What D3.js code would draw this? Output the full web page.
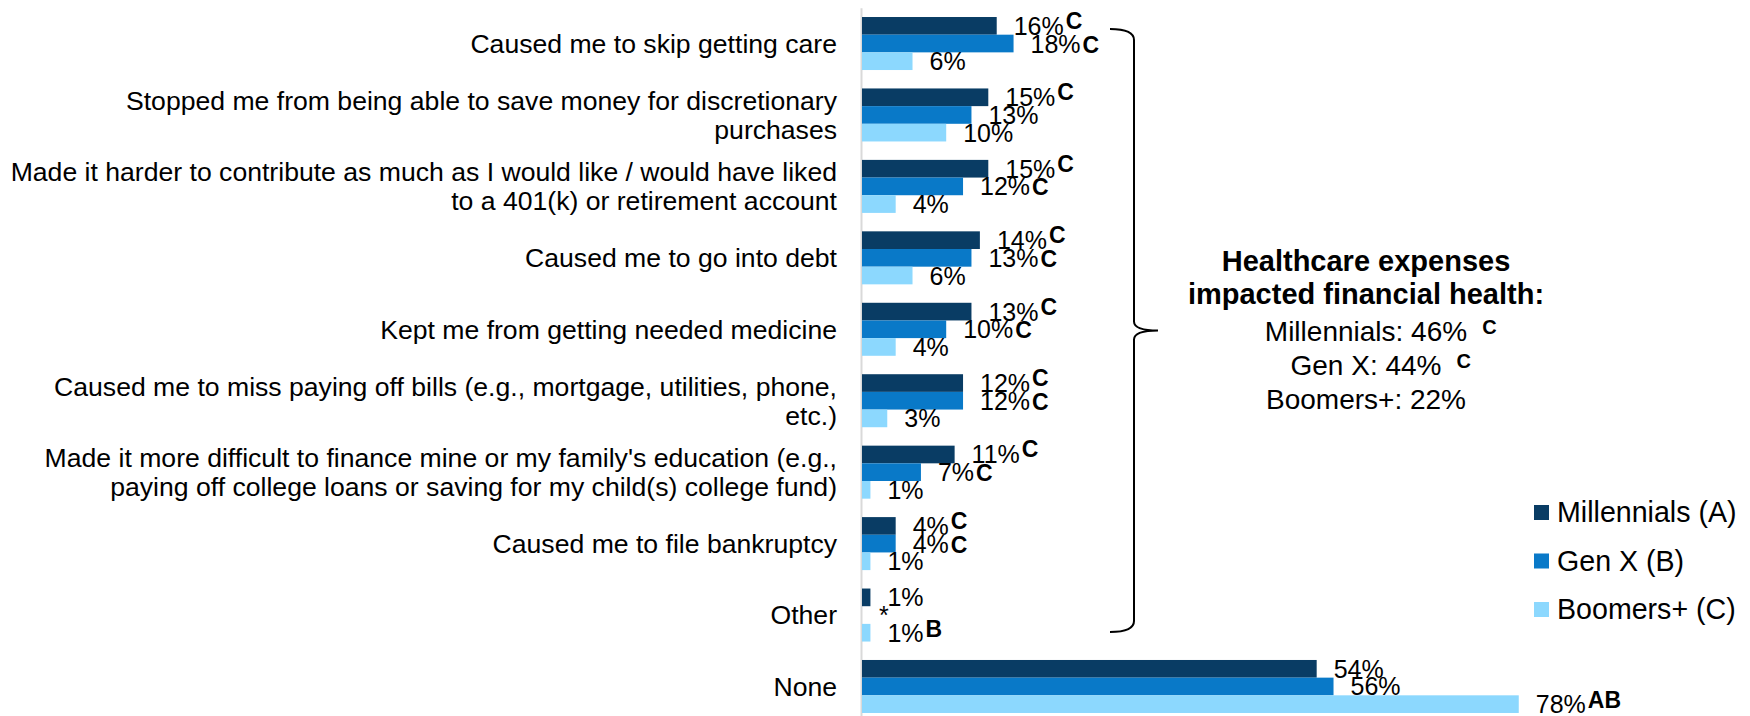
<!DOCTYPE html>
<html>
<head>
<meta charset="utf-8">
<script src="https://cdn.jsdelivr.net/npm/d3@7"></script>
<style>
  html, body { margin: 0; padding: 0; background: #fff; }
  svg { display: block; font-family: "Liberation Sans", Arial, sans-serif; }
</style>
</head>
<body>
<svg id="chart" width="1750" height="716"></svg>
<script>
// Survey answers (line breaks where the labels wrap)
const categories = [
  "Caused me to skip getting care",
  "Stopped me from being able to save money for discretionary\npurchases",
  "Made it harder to contribute as much as I would like / would have liked\nto a 401(k) or retirement account",
  "Caused me to go into debt",
  "Kept me from getting needed medicine",
  "Caused me to miss paying off bills (e.g., mortgage, utilities, phone,\netc.)",
  "Made it more difficult to finance mine or my family's education (e.g.,\npaying off college loans or saving for my child(s) college fund)",
  "Caused me to file bankruptcy",
  "Other",
  "None"
];

const seriesNames = ["Millennials (A)", "Gen X (B)", "Boomers+ (C)"];

// Percent of respondents; null = less than 0.5% (shown as *)
const millennials = [16, 15, 15, 14, 13, 12, 11, 4, 1, 54];
const genX        = [18, 13, 12, 13, 10, 12, 7, 4, null, 56];
const boomers     = [6, 10, 4, 6, 4, 3, 1, 1, 1, 78];

// Significance letters next to each value
const sigMillennials = ["C", "C", "C", "C", "C", "C", "C", "C", "", ""];
const sigGenX        = ["C", "", "C", "C", "C", "C", "C", "C", "", ""];
const sigBoomers     = ["", "", "", "", "", "", "", "", "B", "AB"];

// Summary box text
const summaryTitle = ["Healthcare expenses", "impacted financial health:"];
const summaryRows = [
  { text: "Millennials: 46%", sig: "C" },
  { text: "Gen X: 44%", sig: "C" },
  { text: "Boomers+: 22%", sig: "" }
];

const colors = ["#093c64", "#0979c8", "#8cd8fe"];

const series = [
  { name: seriesNames[0], values: millennials, sig: sigMillennials, raise: 6 },
  { name: seriesNames[1], values: genX, sig: sigGenX, raise: 0 },
  { name: seriesNames[2], values: boomers, sig: sigBoomers, raise: 5 }
];

const svg = d3.select("#chart");

const y = d3.scaleBand()
  .domain(categories)
  .range([7.8, 722.2])
  .paddingInner(0.258)
  .paddingOuter(0.129);

const ySeries = d3.scaleBand()
  .domain(seriesNames)
  .range([0, y.bandwidth()]);

const x = d3.scaleLinear()
  .domain([0, 100])
  .range([862, 1704]);

// Category axis line
const axis = svg.append("g")
  .attr("transform", `translate(${x(0) - 1},0)`)
  .call(d3.axisLeft(y).tickSize(0).tickFormat(""));
axis.select(".domain").attr("stroke", "#d9d9d9").attr("stroke-width", 2);

// Category labels (right-aligned, multi-line)
const labelX = x(0) - 25;
const lineH = 29;
categories.forEach(cat => {
  const lines = cat.split("\n");
  const cy = y(cat) + y.bandwidth() / 2;
  const first = cy + 9.3 - (lines.length - 1) * lineH / 2;
  const t = svg.append("text")
    .attr("text-anchor", "end")
    .attr("font-size", 26.6)
    .attr("fill", "#000");
  lines.forEach((ln, i) => {
    t.append("tspan").attr("x", labelX).attr("y", first + i * lineH).text(ln);
  });
});

// Bars and value labels
series.forEach((s, si) => {
  const g = svg.append("g");
  g.selectAll("rect")
    .data(categories.map((c, i) => ({ c, v: s.values[i] })))
    .join("rect")
    .attr("x", x(0))
    .attr("y", d => y(d.c) + ySeries(s.name))
    .attr("width", d => x(d.v || 0) - x(0))
    .attr("height", ySeries.bandwidth())
    .attr("fill", colors[si]);

  const labels = g.selectAll("text")
    .data(categories.map((c, i) => ({ c, v: s.values[i], sig: s.sig[i] })))
    .join("text")
    .attr("x", d => x(d.v || 0) + 17)
    .attr("y", d => y(d.c) + ySeries(s.name) + ySeries.bandwidth() / 2 + 9)
    .attr("font-size", 25)
    .attr("fill", "#000");

  labels.append("tspan").text(d => d.v === null ? "*" : d.v + "%");
  labels.filter(d => d.sig)
    .append("tspan")
    .attr("dx", 2)
    .attr("dy", -s.raise)
    .attr("font-size", 23)
    .attr("font-weight", "bold")
    .text(d => d.sig);
});

// Brace grouping the impact answers
const braceTop = y(categories[0]) + 12;
const braceBot = y("Other") + 43.5;
const braceMid = (braceTop + braceBot) / 2;
const bx0 = 1110, bx1 = 1134, bx2 = 1158;
const brace = d3.path();
brace.moveTo(bx0, braceTop);
brace.quadraticCurveTo(bx1, braceTop, bx1, braceTop + 11);
brace.lineTo(bx1, braceMid - 9);
brace.quadraticCurveTo(bx1, braceMid, bx2, braceMid);
brace.quadraticCurveTo(bx1, braceMid, bx1, braceMid + 9);
brace.lineTo(bx1, braceBot - 11);
brace.quadraticCurveTo(bx1, braceBot, bx0, braceBot);
svg.append("path")
  .attr("d", brace.toString())
  .attr("fill", "none")
  .attr("stroke", "#000")
  .attr("stroke-width", 2);

// Summary text
const cx = 1366;
const titleY = [271, 304];
summaryTitle.forEach((t, i) => {
  svg.append("text")
    .attr("x", cx).attr("y", titleY[i])
    .attr("text-anchor", "middle")
    .attr("font-size", 29)
    .attr("font-weight", "bold")
    .text(t);
});
const rowY = [341, 375, 409];
summaryRows.forEach((r, i) => {
  const t = svg.append("text")
    .attr("x", cx).attr("y", rowY[i])
    .attr("text-anchor", "middle")
    .attr("font-size", 28)
    .text(r.text);
  if (r.sig) {
    const w = t.node().getComputedTextLength();
    svg.append("text")
      .attr("x", cx + w / 2 + 15).attr("y", rowY[i] - 7)
      .attr("font-size", 20)
      .attr("font-weight", "bold")
      .text(r.sig);
  }
});

// Legend
const legend = svg.append("g").attr("transform", "translate(1534,505)");
seriesNames.forEach((n, i) => {
  const row = legend.append("g").attr("transform", `translate(0,${i * 48.5})`);
  row.append("rect").attr("width", 15).attr("height", 15).attr("fill", colors[i]);
  row.append("text").attr("x", 23).attr("y", 17).attr("font-size", 28.6).text(n);
});
</script>
</body>
</html>
